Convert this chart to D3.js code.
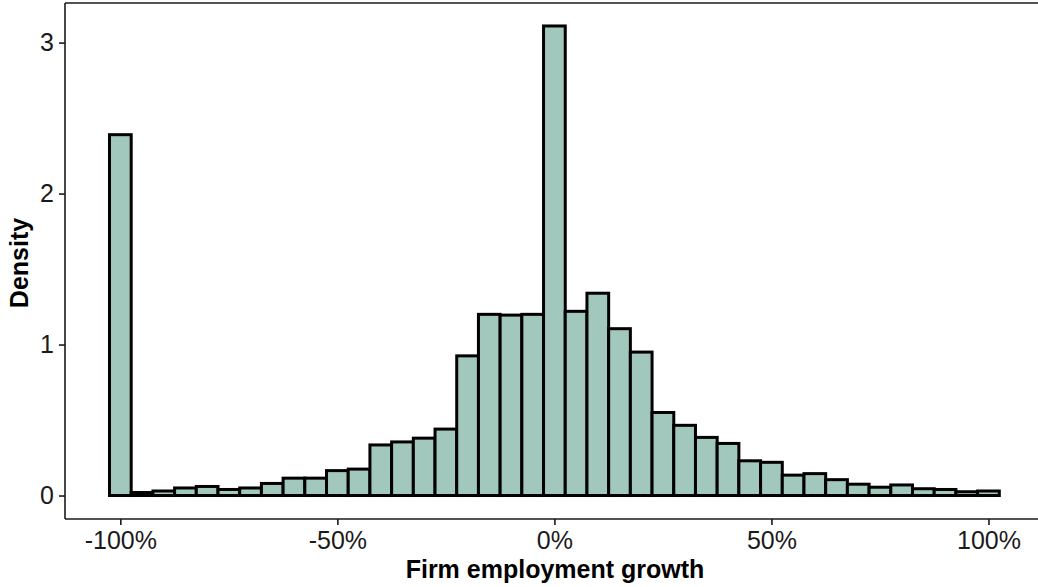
<!DOCTYPE html>
<html>
<head>
<meta charset="utf-8">
<script src="https://cdn.jsdelivr.net/npm/d3@7"></script>
<style>
  html, body { margin: 0; padding: 0; background: #ffffff; }
  svg { display: block; }
  text { font-family: "Liberation Sans", Arial, Helvetica, sans-serif; }
</style>
</head>
<body>
<svg id="chart" width="1038" height="587"></svg>
<script>
// Bin centers (employment growth, %) and bin width
const binCenters = [-100,-95,-90,-85,-80,-75,-70,-65,-60,-55,-50,-45,-40,-35,-30,-25,-20,-15,-10,-5,
                    0,5,10,15,20,25,30,35,40,45,50,55,60,65,70,75,80,85,90,95,100];
const binWidth = 5;
// Density for each bin
const densities = [2.39,0.02,0.03,0.05,0.06,0.04,0.05,0.08,0.115,0.115,0.165,0.175,0.335,0.355,0.38,0.44,0.925,1.20,1.195,1.20,
                   3.11,1.22,1.34,1.105,0.95,0.55,0.465,0.385,0.345,0.23,0.22,0.135,0.145,0.105,0.075,0.055,0.07,0.045,0.04,0.025,0.03];
const xTicks = [-100, -50, 0, 50, 100];
const xTickLabels = ["-100%", "-50%", "0%", "50%", "100%"];
const yTicks = [0, 1, 2, 3];
const xTitle = "Firm employment growth";
const yTitle = "Density";

(function () {
const svg = d3.select("#chart");
const W = 1038;
const padLeft = 65, padBottom = 519, padTop = 2.5;

const xmin = binCenters[0] - binWidth / 2, xmax = binCenters[binCenters.length - 1] + binWidth / 2;
const xpad = (xmax - xmin) * 0.05;
const x = d3.scaleLinear().domain([xmin - xpad, xmax + xpad]).range([padLeft, 1043.8]);
const ymaxv = d3.max(densities);
const ypad = ymaxv * 0.05;
const y = d3.scaleLinear().domain([-ypad, ymaxv + ypad]).range([padBottom, padTop]);

const data = binCenters.map((c, i) => ({c, v: densities[i]}));

// bars
svg.append("g").selectAll("rect").data(data).join("rect")
  .attr("x", d => x(d.c - binWidth / 2))
  .attr("width", d => x(d.c + binWidth / 2) - x(d.c - binWidth / 2))
  .attr("y", d => y(d.v))
  .attr("height", d => y(0) - y(d.v))
  .attr("fill", "#a2c8bd")
  .attr("stroke", "#000")
  .attr("stroke-width", 3);

// top frame line
svg.append("line").attr("x1", padLeft).attr("x2", W).attr("y1", 3).attr("y2", 3)
  .attr("stroke", "#1a1a1a").attr("stroke-width", 1.6);

// x axis
const xAxis = d3.axisBottom(x).tickValues(xTicks).tickSize(6).tickPadding(6)
  .tickFormat((d, i) => xTickLabels[i]);
const gx = svg.append("g").attr("transform", `translate(0,${padBottom})`).call(xAxis);
gx.select(".domain").remove();
gx.append("line").attr("x1", padLeft).attr("x2", W).attr("y1", 0).attr("y2", 0)
  .attr("stroke", "#1a1a1a").attr("stroke-width", 1.6);
gx.selectAll(".tick line").attr("stroke", "#1a1a1a").attr("stroke-width", 1.6);
gx.selectAll(".tick text").attr("font-size", "25px").attr("fill", "#1a1a1a")
  .attr("font-family", "'Liberation Sans', Arial, sans-serif").attr("dy", "0.72em");

// y axis
const yAxis = d3.axisLeft(y).tickValues(yTicks).tickSize(6).tickPadding(5).tickFormat(d3.format("d"));
const gy = svg.append("g").attr("transform", `translate(${padLeft},0)`).call(yAxis);
gy.select(".domain").remove();
gy.append("line").attr("x1", 0).attr("x2", 0).attr("y1", 3).attr("y2", padBottom)
  .attr("stroke", "#1a1a1a").attr("stroke-width", 1.6);
gy.selectAll(".tick line").attr("stroke", "#1a1a1a").attr("stroke-width", 1.6);
gy.selectAll(".tick text").attr("font-size", "25px").attr("fill", "#1a1a1a")
  .attr("font-family", "'Liberation Sans', Arial, sans-serif");

// axis titles
svg.append("text").attr("x", 555).attr("y", 578).attr("text-anchor", "middle")
  .attr("font-size", "25px").attr("font-weight", "bold").attr("fill", "#000").text(xTitle);
svg.append("text").attr("transform", `translate(28,${(3 + padBottom) / 2 + 2}) rotate(-90)`)
  .attr("text-anchor", "middle").attr("font-size", "25px").attr("font-weight", "bold")
  .attr("fill", "#000").text(yTitle);
})();
</script>
</body>
</html>
